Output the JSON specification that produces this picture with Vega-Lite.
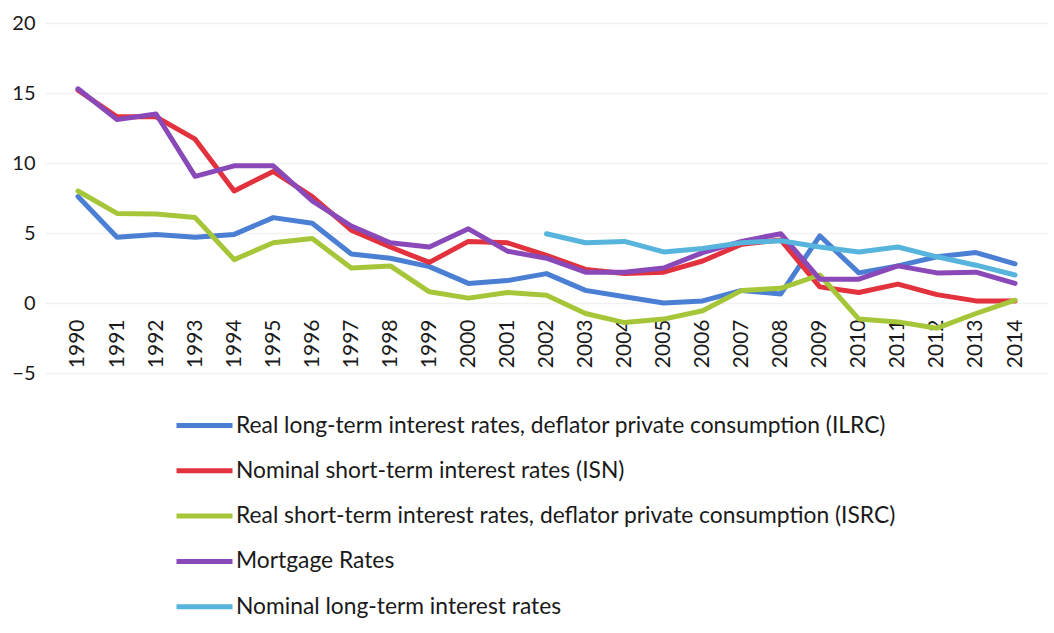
{
  "$schema": "https://vega.github.io/schema/vega-lite/v6.json",
  "autosize": "none",
  "width": 1003,
  "height": 350,
  "padding": {"left": 45, "top": 23, "right": 6, "bottom": 260},
  "background": "white",
  "config": {
    "view": {"stroke": null},
    "font": "Lato",
    "axis": {"labelFont": "Lato", "labelColor": "#1a1a1a"}
  },
  "datasets": {
    "rates": [
      {"year": "1990", "series": "ILRC", "value": 7.6},
      {"year": "1991", "series": "ILRC", "value": 4.7},
      {"year": "1992", "series": "ILRC", "value": 4.9},
      {"year": "1993", "series": "ILRC", "value": 4.7},
      {"year": "1994", "series": "ILRC", "value": 4.9},
      {"year": "1995", "series": "ILRC", "value": 6.1},
      {"year": "1996", "series": "ILRC", "value": 5.7},
      {"year": "1997", "series": "ILRC", "value": 3.5},
      {"year": "1998", "series": "ILRC", "value": 3.2},
      {"year": "1999", "series": "ILRC", "value": 2.6},
      {"year": "2000", "series": "ILRC", "value": 1.4},
      {"year": "2001", "series": "ILRC", "value": 1.6},
      {"year": "2002", "series": "ILRC", "value": 2.1},
      {"year": "2003", "series": "ILRC", "value": 0.9},
      {"year": "2004", "series": "ILRC", "value": 0.45},
      {"year": "2005", "series": "ILRC", "value": 0.0},
      {"year": "2006", "series": "ILRC", "value": 0.15},
      {"year": "2007", "series": "ILRC", "value": 0.9},
      {"year": "2008", "series": "ILRC", "value": 0.65},
      {"year": "2009", "series": "ILRC", "value": 4.8},
      {"year": "2010", "series": "ILRC", "value": 2.15},
      {"year": "2011", "series": "ILRC", "value": 2.65},
      {"year": "2012", "series": "ILRC", "value": 3.3},
      {"year": "2013", "series": "ILRC", "value": 3.6},
      {"year": "2014", "series": "ILRC", "value": 2.8},

      {"year": "1990", "series": "ISN", "value": 15.2},
      {"year": "1991", "series": "ISN", "value": 13.3},
      {"year": "1992", "series": "ISN", "value": 13.3},
      {"year": "1993", "series": "ISN", "value": 11.7},
      {"year": "1994", "series": "ISN", "value": 8.0},
      {"year": "1995", "series": "ISN", "value": 9.4},
      {"year": "1996", "series": "ISN", "value": 7.6},
      {"year": "1997", "series": "ISN", "value": 5.2},
      {"year": "1998", "series": "ISN", "value": 4.0},
      {"year": "1999", "series": "ISN", "value": 2.9},
      {"year": "2000", "series": "ISN", "value": 4.4},
      {"year": "2001", "series": "ISN", "value": 4.3},
      {"year": "2002", "series": "ISN", "value": 3.4},
      {"year": "2003", "series": "ISN", "value": 2.4},
      {"year": "2004", "series": "ISN", "value": 2.1},
      {"year": "2005", "series": "ISN", "value": 2.2},
      {"year": "2006", "series": "ISN", "value": 3.0},
      {"year": "2007", "series": "ISN", "value": 4.2},
      {"year": "2008", "series": "ISN", "value": 4.5},
      {"year": "2009", "series": "ISN", "value": 1.15},
      {"year": "2010", "series": "ISN", "value": 0.75},
      {"year": "2011", "series": "ISN", "value": 1.35},
      {"year": "2012", "series": "ISN", "value": 0.6},
      {"year": "2013", "series": "ISN", "value": 0.15},
      {"year": "2014", "series": "ISN", "value": 0.15},

      {"year": "1990", "series": "ISRC", "value": 8.0},
      {"year": "1991", "series": "ISRC", "value": 6.4},
      {"year": "1992", "series": "ISRC", "value": 6.35},
      {"year": "1993", "series": "ISRC", "value": 6.1},
      {"year": "1994", "series": "ISRC", "value": 3.1},
      {"year": "1995", "series": "ISRC", "value": 4.3},
      {"year": "1996", "series": "ISRC", "value": 4.6},
      {"year": "1997", "series": "ISRC", "value": 2.5},
      {"year": "1998", "series": "ISRC", "value": 2.65},
      {"year": "1999", "series": "ISRC", "value": 0.8},
      {"year": "2000", "series": "ISRC", "value": 0.35},
      {"year": "2001", "series": "ISRC", "value": 0.75},
      {"year": "2002", "series": "ISRC", "value": 0.55},
      {"year": "2003", "series": "ISRC", "value": -0.75},
      {"year": "2004", "series": "ISRC", "value": -1.4},
      {"year": "2005", "series": "ISRC", "value": -1.15},
      {"year": "2006", "series": "ISRC", "value": -0.55},
      {"year": "2007", "series": "ISRC", "value": 0.9},
      {"year": "2008", "series": "ISRC", "value": 1.05},
      {"year": "2009", "series": "ISRC", "value": 2.0},
      {"year": "2010", "series": "ISRC", "value": -1.15},
      {"year": "2011", "series": "ISRC", "value": -1.35},
      {"year": "2012", "series": "ISRC", "value": -1.8},
      {"year": "2013", "series": "ISRC", "value": -0.75},
      {"year": "2014", "series": "ISRC", "value": 0.2},

      {"year": "1990", "series": "Mortgage", "value": 15.3},
      {"year": "1991", "series": "Mortgage", "value": 13.1},
      {"year": "1992", "series": "Mortgage", "value": 13.5},
      {"year": "1993", "series": "Mortgage", "value": 9.05},
      {"year": "1994", "series": "Mortgage", "value": 9.8},
      {"year": "1995", "series": "Mortgage", "value": 9.8},
      {"year": "1996", "series": "Mortgage", "value": 7.3},
      {"year": "1997", "series": "Mortgage", "value": 5.5},
      {"year": "1998", "series": "Mortgage", "value": 4.3},
      {"year": "1999", "series": "Mortgage", "value": 4.0},
      {"year": "2000", "series": "Mortgage", "value": 5.3},
      {"year": "2001", "series": "Mortgage", "value": 3.7},
      {"year": "2002", "series": "Mortgage", "value": 3.2},
      {"year": "2003", "series": "Mortgage", "value": 2.2},
      {"year": "2004", "series": "Mortgage", "value": 2.2},
      {"year": "2005", "series": "Mortgage", "value": 2.5},
      {"year": "2006", "series": "Mortgage", "value": 3.6},
      {"year": "2007", "series": "Mortgage", "value": 4.4},
      {"year": "2008", "series": "Mortgage", "value": 4.95},
      {"year": "2009", "series": "Mortgage", "value": 1.7},
      {"year": "2010", "series": "Mortgage", "value": 1.7},
      {"year": "2011", "series": "Mortgage", "value": 2.65},
      {"year": "2012", "series": "Mortgage", "value": 2.15},
      {"year": "2013", "series": "Mortgage", "value": 2.2},
      {"year": "2014", "series": "Mortgage", "value": 1.4},

      {"year": "2002", "series": "NominalLong", "value": 4.95},
      {"year": "2003", "series": "NominalLong", "value": 4.3},
      {"year": "2004", "series": "NominalLong", "value": 4.4},
      {"year": "2005", "series": "NominalLong", "value": 3.65},
      {"year": "2006", "series": "NominalLong", "value": 3.9},
      {"year": "2007", "series": "NominalLong", "value": 4.3},
      {"year": "2008", "series": "NominalLong", "value": 4.45},
      {"year": "2009", "series": "NominalLong", "value": 4.0},
      {"year": "2010", "series": "NominalLong", "value": 3.65},
      {"year": "2011", "series": "NominalLong", "value": 4.0},
      {"year": "2012", "series": "NominalLong", "value": 3.3},
      {"year": "2013", "series": "NominalLong", "value": 2.7},
      {"year": "2014", "series": "NominalLong", "value": 2.0}
    ]
  },
  "data": {"name": "rates"},
  "mark": {"type": "line", "strokeWidth": 5, "strokeJoin": "round", "strokeCap": "round"},
  "encoding": {
    "x": {
      "field": "year",
      "type": "ordinal",
      "scale": {"type": "point", "padding": 0.845},
      "axis": {
        "title": null,
        "offset": -70,
        "labelAngle": -90,
        "labelFontSize": 21,
        "labelPadding": 16,
        "ticks": false,
        "domain": false,
        "grid": false
      }
    },
    "y": {
      "field": "value",
      "type": "quantitative",
      "scale": {"domain": [-5, 20], "nice": false, "zero": false},
      "axis": {
        "title": null,
        "values": [-5, 0, 5, 10, 15, 20],
        "labelFontSize": 20,
        "labelPadding": 10,
        "ticks": false,
        "domain": false,
        "grid": true,
        "gridColor": "#f1f1f1",
        "gridWidth": 1.5
      }
    },
    "color": {
      "field": "series",
      "type": "nominal",
      "sort": null,
      "scale": {
        "domain": ["ILRC", "ISN", "ISRC", "Mortgage", "NominalLong"],
        "range": ["#4a7fd3", "#e2323d", "#a6c63a", "#8a49b9", "#56b4dd"]
      },
      "legend": {
        "orient": "none",
        "legendX": 129,
        "legendY": 372,
        "direction": "vertical",
        "title": null,
        "padding": 0,
        "symbolType": "stroke",
        "symbolSize": 3136,
        "symbolStrokeWidth": 5,
        "labelFont": "Lato",
        "labelFontSize": 22.8,
        "labelColor": "#1a1a1a",
        "labelOffset": 1,
        "rowPadding": 2.3,
        "labelLimit": 1000,
        "labelExpr": "datum.label == 'ILRC' ? 'Real long-term interest rates, deflator private consumption (ILRC)' : datum.label == 'ISN' ? 'Nominal short-term interest rates (ISN)' : datum.label == 'ISRC' ? 'Real short-term interest rates, deflator private consumption (ISRC)' : datum.label == 'Mortgage' ? 'Mortgage Rates' : 'Nominal long-term interest rates'"
      }
    }
  }
}
